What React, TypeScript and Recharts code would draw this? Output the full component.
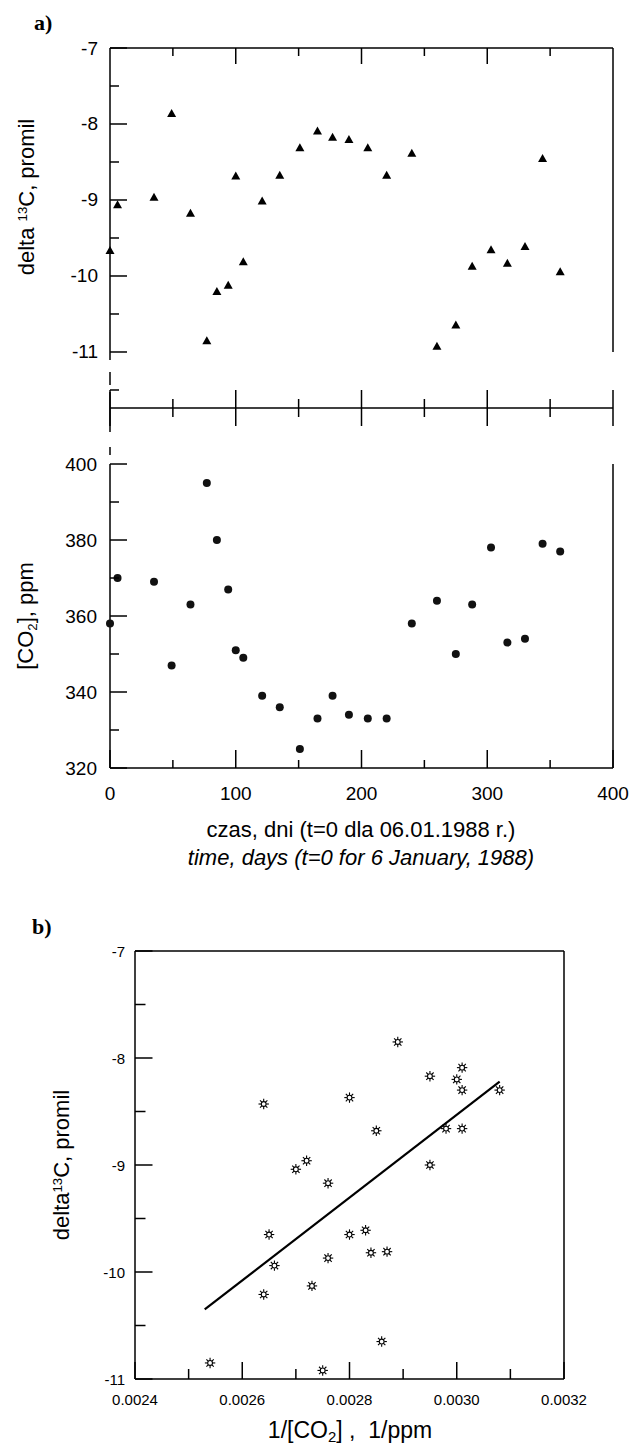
import React from "react";
import { ScatterChart, Scatter, XAxis, YAxis, ReferenceLine } from "recharts";

// panel a) sampling days and measured values
const days = [0, 6, 35, 49, 64, 77, 85, 94, 100, 106, 121, 135, 151, 165, 177, 190, 205, 220, 240, 260, 275, 288, 303, 316, 330, 344, 358];
const delta13C = [-9.67, -9.07, -8.97, -7.87, -9.18, -10.86, -10.21, -10.13, -8.69, -9.82, -9.02, -8.68, -8.32, -8.1, -8.18, -8.21, -8.32, -8.68, -8.39, -10.93, -10.65, -9.88, -9.66, -9.84, -9.62, -8.46, -9.95];
const co2 = [358, 370, 369, 347, 363, 395, 380, 367, 351, 349, 339, 336, 325, 333, 339, 334, 333, 333, 358, 364, 350, 363, 378, 353, 354, 379, 377];

// panel b) delta vs 1/[CO2]
const invCo2 = [0.0028, 0.0027, 0.00272, 0.00289, 0.00276, 0.00254, 0.00264, 0.00273, 0.00285, 0.00287, 0.00295, 0.00298, 0.00308, 0.00301, 0.00295, 0.003, 0.00301, 0.00301, 0.0028, 0.00275, 0.00286, 0.00276, 0.00265, 0.00284, 0.00283, 0.00264, 0.00266];
const deltaB = [-9.65, -9.04, -8.96, -7.85, -9.17, -10.85, -10.21, -10.13, -8.68, -9.81, -9.0, -8.66, -8.3, -8.09, -8.17, -8.2, -8.3, -8.66, -8.37, -10.92, -10.65, -9.87, -9.65, -9.82, -9.61, -8.43, -9.94];
const fitX = [0.00253, 0.00308];
const fitY = [-10.35, -8.22];

// ticks
const dayTicks = [0, 50, 100, 150, 200, 250, 300, 350, 400];
const deltaTicks = [-11.5, -11, -10.5, -10, -9.5, -9, -8.5, -8, -7.5, -7];
const co2Ticks = [320, 330, 340, 350, 360, 370, 380, 390, 400];
const invTicks = [0.0024, 0.0025, 0.0026, 0.0027, 0.0028, 0.0029, 0.003, 0.0031, 0.0032];
const deltaTicksB = [-11, -10.5, -10, -9.5, -9, -8.5, -8, -7.5, -7];

const FONT = "'Liberation Sans', Arial, Helvetica, sans-serif";
const SW = 1.5;

const isInt = (v: number) => Math.abs(v - Math.round(v)) < 1e-9;

const leftTick = (isMajor: (v: number) => boolean, showLabel: (v: number) => boolean, big: number, small: number, fs: number, gap: number, fmt: (v: number) => string) =>
  (props: any) => {
    const { x, y, payload } = props;
    const v = payload.value;
    const major = isMajor(v);
    return (
      <g>
        <line x1={x} x2={x + (major ? big : small)} y1={y} y2={y} stroke="#000" strokeWidth={SW} />
        {showLabel(v) && (
          <text x={x - gap} y={y} textAnchor="end" dominantBaseline="central" fontSize={fs} fontFamily={FONT} fill="#000">
            {fmt(v)}
          </text>
        )}
      </g>
    );
  };

const bottomTick = (isMajor: (v: number) => boolean, big: number, small: number, fs: number, gap: number, fmt: ((v: number) => string) | null) =>
  (props: any) => {
    const { x, y, payload } = props;
    const v = payload.value;
    const major = isMajor(v);
    return (
      <g>
        <line x1={x} x2={x} y1={y} y2={y - (major ? big : small)} stroke="#000" strokeWidth={SW} />
        {fmt && major && (
          <text x={x} y={y + gap} textAnchor="middle" dominantBaseline="central" fontSize={fs} fontFamily={FONT} fill="#000">
            {fmt(v)}
          </text>
        )}
      </g>
    );
  };

// middle axis of panel a: ticks cross the line
const midTick = (props: any) => {
  const { x, y, payload } = props;
  const len = payload.value % 100 === 0 ? 18 : 9;
  return <line x1={x} x2={x} y1={y - len} y2={y + len} stroke="#000" strokeWidth={SW} />;
};

// inward tick on the top border, placed by the scatter scales at (day, -7)
const TopMark = (props: any) => {
  const { cx, cy, payload } = props;
  const len = payload.x % 100 === 0 ? 16 : 8;
  return <line x1={cx} x2={cx} y1={cy} y2={cy + len} stroke="#000" strokeWidth={SW} />;
};

const Triangle = (props: any) => {
  const { cx, cy } = props;
  return <polygon points={`${cx},${cy - 5} ${cx - 4.5},${cy + 3} ${cx + 4.5},${cy + 3}`} fill="#000" />;
};

const Dot = (props: any) => {
  const { cx, cy } = props;
  return <circle cx={cx} cy={cy} r={4} fill="#111" />;
};

const Star = (props: any) => {
  const { cx, cy } = props;
  const rays = [0, 1, 2, 3, 4, 5, 6, 7].map((k) => {
    const a = (k * Math.PI) / 4;
    return (
      <line key={k} x1={cx + 2.6 * Math.cos(a)} y1={cy + 2.6 * Math.sin(a)} x2={cx + 5.2 * Math.cos(a)} y2={cy + 5.2 * Math.sin(a)} stroke="#000" strokeWidth={1.1} />
    );
  });
  return (
    <g>
      <circle cx={cx} cy={cy} r={2.4} fill="#fff" stroke="#000" strokeWidth={1.1} />
      {rays}
    </g>
  );
};

const Nothing = () => <g />;

const seg = (x1: number, y1: number, x2: number, y2: number, key: string) => (
  <ReferenceLine key={key} segment={[{ x: x1, y: y1 }, { x: x2, y: y2 }]} stroke="#000" strokeWidth={SW} ifOverflow="visible" />
);

export default function App() {
  const deltaPts = days.map((d, i) => ({ x: d, y: delta13C[i] }));
  const co2Pts = days.map((d, i) => ({ x: d, y: co2[i] }));
  const bPts = invCo2.map((v, i) => ({ x: v, y: deltaB[i] }));
  const fitPts = fitX.map((v, i) => ({ x: v, y: fitY[i] }));
  const topMarkPts = dayTicks.filter((d) => d > 0 && d < 400).map((d) => ({ x: d, y: -7 }));

  const topMin = -11.737;
  const co2Max = 414.74;

  return (
    <div style={{ position: "absolute", left: 0, top: 0, width: 630, height: 1447, background: "#fff", fontFamily: FONT, color: "#000" }}>
      <div style={{ position: "absolute", left: 34, top: 10, font: "bold 22px 'Liberation Serif', 'Times New Roman', serif" }}>a)</div>
      <div style={{ position: "absolute", left: 32, top: 914, font: "bold 22px 'Liberation Serif', 'Times New Roman', serif" }}>b)</div>

      {/* panel a, upper part */}
      <div style={{ position: "absolute", left: 0, top: 0 }}>
        <ScatterChart width={630} height={450} margin={{ top: 48, right: 17, bottom: 32, left: 50 }}>
          <XAxis type="number" dataKey="x" domain={[0, 400]} ticks={dayTicks} interval={0} height={10} tickSize={0} tickMargin={0} tickLine={false} tick={midTick} axisLine={{ stroke: "#000", strokeWidth: SW }} />
          <YAxis type="number" dataKey="y" domain={[topMin, -7]} ticks={deltaTicks} interval={0} width={60} tickSize={0} tickMargin={0} tickLine={false} axisLine={false}
            tick={leftTick(isInt, isInt, 17, 9, 19, 12, (v) => String(v))} />
          <ReferenceLine y={-7} stroke="#000" strokeWidth={SW} ifOverflow="visible" />
          {seg(0, -7, 0, -11.105, "l1")}
          {seg(0, -11.263, 0, -11.434, "l2")}
          {seg(0, -11.526, 0, topMin, "l3")}
          {seg(400, -7, 400, -11, "r1")}
          <Scatter data={topMarkPts} shape={TopMark} isAnimationActive={false} />
          <Scatter data={deltaPts} shape={Triangle} isAnimationActive={false} />
        </ScatterChart>
      </div>

      {/* panel a, lower part */}
      <div style={{ position: "absolute", left: 0, top: 380 }}>
        <ScatterChart width={630} height={440} margin={{ top: 28, right: 17, bottom: 12, left: 50 }}>
          <XAxis type="number" dataKey="x" domain={[0, 400]} ticks={dayTicks} interval={0} height={40} tickSize={0} tickMargin={0} tickLine={false} axisLine={{ stroke: "#000", strokeWidth: SW }}
            tick={bottomTick((v) => v % 100 === 0, 18, 8, 19, 25, (v) => String(v))} />
          <YAxis type="number" dataKey="y" domain={[320, co2Max]} ticks={co2Ticks} interval={0} width={60} tickSize={0} tickMargin={0} tickLine={false} axisLine={false}
            tick={leftTick((v) => v % 20 === 0, (v) => v % 20 === 0, 17, 9, 19, 13, (v) => String(v))} />
          {seg(0, co2Max, 0, 408.42, "l4")}
          {seg(0, 404.47, 0, 402.37, "l5")}
          {seg(0, 400, 0, 320, "l6")}
          {seg(400, 400, 400, 320, "r2")}
          <Scatter data={co2Pts} shape={Dot} isAnimationActive={false} />
        </ScatterChart>
      </div>

      <div style={{ position: "absolute", left: 27, top: 197, transform: "translate(-50%,-50%) rotate(-90deg)", whiteSpace: "nowrap", fontSize: 22, lineHeight: 1 }}>
        delta <span style={{ fontSize: "0.6em", verticalAlign: "0.6em" }}>13</span>C, promil
      </div>
      <div style={{ position: "absolute", left: 27, top: 616, transform: "translate(-50%,-50%) rotate(-90deg)", whiteSpace: "nowrap", fontSize: 22, lineHeight: 1 }}>
        [CO<span style={{ fontSize: "0.6em", verticalAlign: "-0.3em" }}>2</span>], ppm
      </div>
      <div style={{ position: "absolute", left: 361, top: 830, transform: "translate(-50%,-50%)", whiteSpace: "nowrap", fontSize: 22, lineHeight: 1 }}>
        czas, dni (t=0 dla 06.01.1988 r.)
      </div>
      <div style={{ position: "absolute", left: 361, top: 858, transform: "translate(-50%,-50%)", whiteSpace: "nowrap", fontSize: 22, lineHeight: 1, fontStyle: "italic" }}>
        time, days (t=0 for 6 January, 1988)
      </div>

      {/* panel b */}
      <div style={{ position: "absolute", left: 0, top: 900 }}>
        <ScatterChart width={630} height={547} margin={{ top: 51, right: 66, bottom: 28, left: 75 }}>
          <XAxis type="number" dataKey="x" domain={[0.0024, 0.0032]} ticks={invTicks} interval={0} height={40} tickSize={0} tickMargin={0} tickLine={false} axisLine={{ stroke: "#000", strokeWidth: SW }}
            tick={bottomTick((v) => Math.round(v * 10000) % 2 === 0, 17, 10, 15, 20, (v) => v.toFixed(4))} />
          <YAxis type="number" dataKey="y" domain={[-11, -7]} ticks={deltaTicksB} interval={0} width={60} tickSize={0} tickMargin={0} tickLine={false} axisLine={{ stroke: "#000", strokeWidth: SW }}
            tick={leftTick(isInt, isInt, 17.5, 10.5, 15, 10, (v) => String(v))} />
          <ReferenceLine y={-7} stroke="#000" strokeWidth={SW} ifOverflow="visible" />
          <ReferenceLine x={0.0032} stroke="#000" strokeWidth={SW} ifOverflow="visible" />
          <Scatter data={fitPts} line={{ stroke: "#000", strokeWidth: 2.2 }} shape={Nothing} isAnimationActive={false} />
          <Scatter data={bPts} shape={Star} isAnimationActive={false} />
        </ScatterChart>
      </div>

      <div style={{ position: "absolute", left: 62, top: 1165, transform: "translate(-50%,-50%) rotate(-90deg)", whiteSpace: "nowrap", fontSize: 22, lineHeight: 1 }}>
        delta<span style={{ fontSize: "0.6em", verticalAlign: "0.6em" }}>13</span>C, promil
      </div>
      <div style={{ position: "absolute", left: 350, top: 1432, transform: "translate(-50%,-50%)", whiteSpace: "pre", fontSize: 23, lineHeight: 1 }}>
        1/[CO<span style={{ fontSize: "0.65em", verticalAlign: "-0.3em" }}>2</span>] ,  1/ppm
      </div>
    </div>
  );
}
